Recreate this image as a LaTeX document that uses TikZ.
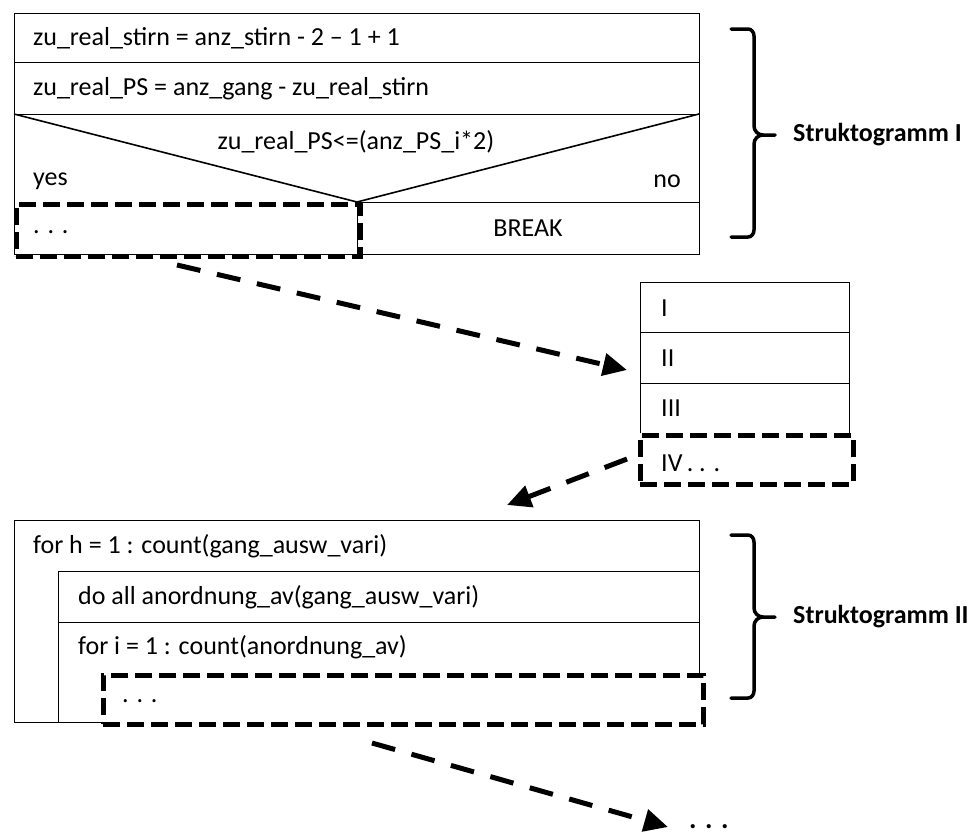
\documentclass[tikz,border=0pt]{standalone}
\usepackage{fontspec}
\setmainfont{Carlito}
\usetikzlibrary{arrows.meta}

\begin{document}
\begin{tikzpicture}[x=1pt,y=-1pt,
  frame/.style={line width=1pt},
  branch/.style={line width=1.6pt},
  focus/.style={draw, line width=4.5pt, dash pattern=on 17pt off 7pt, inner sep=0pt,
                anchor=north west},
  jump/.style={line width=5pt, dash pattern=on 24pt off 17pt,
               -{Triangle[length=24pt,width=22pt]}},
  brace/.style={line width=3.5pt, line cap=round},
  lbl/.style={font=\fontsize{26}{30}\selectfont, inner sep=0pt, anchor=west},
  title/.style={font=\fontsize{26}{30}\selectfont\bfseries, inner sep=0pt, anchor=west}]

\useasboundingbox (0,0) rectangle (972,839);

% ---------- Struktogramm I ----------
\draw[frame] (14,13) rectangle (699,254);
\draw[frame] (14,62) -- (699,62);
\draw[frame] (14,114) -- (699,114);
\draw[frame] (357,202) -- (699,202);
\draw[frame] (357,202) -- (357,254);
\draw[branch] (14,114) -- (357,202) -- (699,114);

\node[lbl] (s1) at (33,38) {zu\_real\_stirn = anz\_stirn - 2 – 1 + 1};
\node[lbl] (s2) at (33,89) {zu\_real\_PS = anz\_gang - zu\_real\_stirn};
\node[lbl, anchor=center] (cond) at (356,142) {zu\_real\_PS<=(anz\_PS\_i*2)};
\node[lbl] (yes) at (33,181) {yes};
\node[lbl, anchor=east] (no) at (681,181) {no};
\node[lbl, anchor=center] (brk) at (528,228) {BREAK};

\node[focus, minimum width=344pt, minimum height=52pt] (yesbox) at (14,202) {};
\node[lbl] (yesdots) at (33,232) {. . .};

% brace I
\draw[brace] (731,29) -- (748,29) to[out=0,in=90] (754,36) -- (754,126)
  to[out=-90,in=180] (763,135) -- (775,135);
\draw[brace] (731,237) -- (748,237) to[out=0,in=-90] (754,230) -- (754,144)
  to[out=90,in=180] (763,135);
\node[title] (st1) at (793,135) {Struktogramm I};

% ---------- step list ----------
\draw[frame] (640,433) -- (640,282) -- (849,282) -- (849,433);
\draw[frame] (640,332) -- (849,332);
\draw[frame] (640,383) -- (849,383);
\node[lbl] (p1) at (661,308) {I};
\node[lbl] (p2) at (661,358) {II};
\node[lbl] (p3) at (661,408) {III};
\node[focus, minimum width=213pt, minimum height=49pt] (stepbox) at (638,433) {};
\node[lbl] (p4) at (661,463) {IV\,. . .};

% ---------- Struktogramm II ----------
\draw[frame] (14,722) -- (14,520) -- (699,520) -- (699,673);
\draw[frame] (14,722) -- (101,722);
\draw[frame] (58,722) -- (58,571) -- (699,571);
\draw[frame] (58,622) -- (699,622);
\node[lbl] (f1) at (33,546) {for h = 1 : count(gang\_ausw\_vari)};
\node[lbl] (f2) at (78,597) {do all anordnung\_av(gang\_ausw\_vari)};
\node[lbl] (f3) at (78,647) {for i = 1 : count(anordnung\_av)};
\node[focus, minimum width=600pt, minimum height=49pt] (loopbox) at (101,673) {};
\node[lbl] (loopdots) at (122,701) {. . .};

% brace II
\draw[brace] (731,535) -- (748,535) to[out=0,in=90] (754,542) -- (754,608)
  to[out=-90,in=180] (763,617) -- (775,617);
\draw[brace] (731,698) -- (748,698) to[out=0,in=-90] (754,691) -- (754,626)
  to[out=90,in=180] (763,617);
\node[title] (st2) at (793,617) {Struktogramm II};

% ---------- connectors ----------
\coordinate (a1) at (177,265);
\coordinate (a1end) at (627,370);
\draw[jump] (a1) -- (a1end);

\coordinate (a2) at (627,459);
\coordinate (a2end) at (507,505);
\draw[jump] (a2) -- (a2end);

\coordinate (a3) at (372,743);
\coordinate (a3end) at (668,827);
\draw[jump] (a3) -- (a3end);
\node[inner sep=0pt, anchor=base west,
      font=\fontsize{28}{32}\selectfont\bfseries] (more) at (689,828) {. . .};

\end{tikzpicture}
\end{document}
